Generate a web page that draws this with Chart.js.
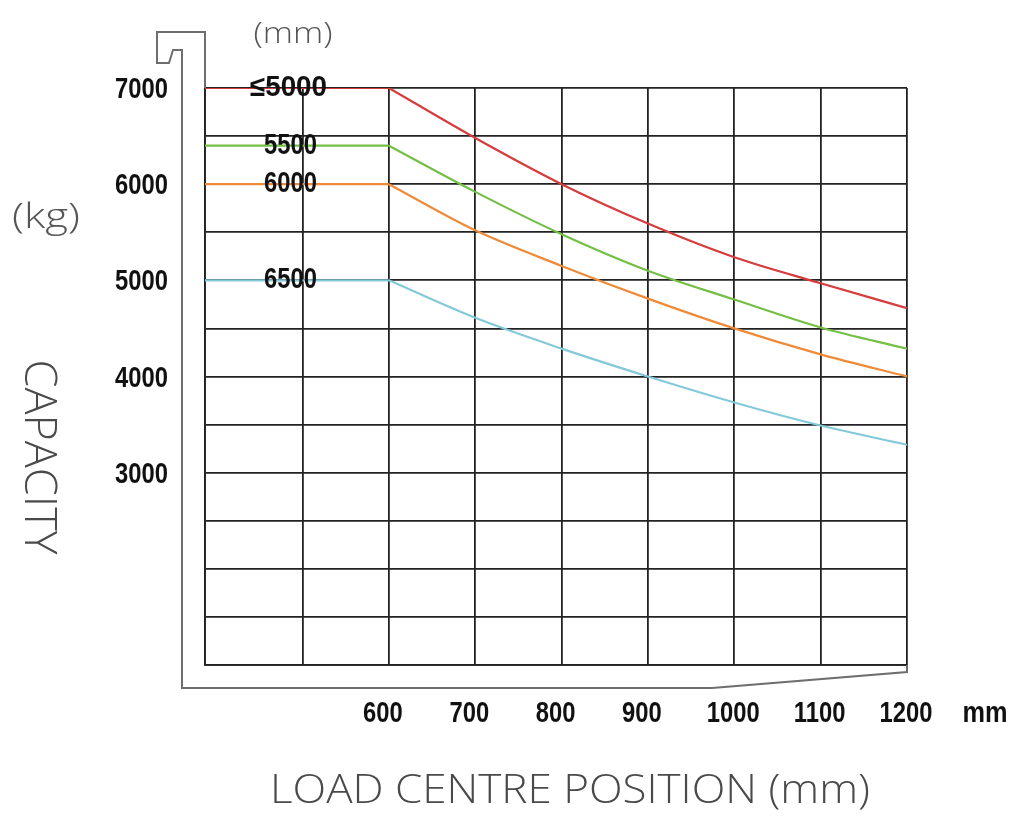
<!DOCTYPE html>
<html>
<head>
<meta charset="utf-8">
<title>Load Capacity Chart</title>
<script src="https://cdn.jsdelivr.net/npm/chart.js@4.4.1/dist/chart.umd.min.js"></script>
<style>
  html, body { margin: 0; padding: 0; background: #fff; }
  #wrap { width: 1014px; height: 819px; }
</style>
</head>
<body>
<div id="wrap"><canvas id="capacityChart" width="1014" height="819"></canvas></div>
<script>
// Load centre positions (mm) - first value is the left edge of the grid
const loadCentres = [387, 600, 700, 800, 900, 1000, 1100, 1200]

// Capacity (kg) for each lift height
const cap5000 = [7000, 7000, 6480, 6000, 5590, 5240, 4970, 4710]
const cap5500 = [6400, 6400, 5920, 5480, 5100, 4800, 4510, 4290]
const cap6000 = [6000, 6000, 5520, 5150, 4810, 4500, 4230, 4000]
const cap6500 = [5000, 5000, 4610, 4290, 4000, 3730, 3490, 3290]

const liftLabels = ["≤5000", "5500", "6000", "6500"]
const liftColors = ["#d63c3c", "#74bf44", "#ee8b38", "#84c9d8"]

// Tick values
const xGridValues = [387, 500, 600, 700, 800, 900, 1000, 1100, 1200]
const xLabelValues = [600, 700, 800, 900, 1000, 1100, 1200]
const yLabelValues = [3000, 4000, 5000, 6000, 7000]

const series = [cap5000, cap5500, cap6000, cap6500]
const boldFont = 'bold 29px "Liberation Sans", Arial, sans-serif'
const lightFont = '"Open Sans", "Noto Sans", sans-serif'
const SQUEEZE = 0.82 // fake "narrow" look

// Build datasets: flat part straight, falling part smooth
function buildDatasets() {
  const sets = []
  series.forEach((caps, i) => {
    const pts = loadCentres.map((x, k) => ({ x: x, y: caps[k] }))
    sets.push({
      label: liftLabels[i] + " flat",
      data: pts.slice(0, 2),
      borderColor: liftColors[i],
      borderWidth: 2.2,
      pointRadius: 0,
      tension: 0,
    })
    sets.push({
      label: liftLabels[i],
      data: pts.slice(1),
      borderColor: liftColors[i],
      borderWidth: 2.2,
      pointRadius: 0,
      cubicInterpolationMode: "monotone",
    })
  })
  return sets
}

// Draw text, optionally fitted to a width or squeezed by a factor
function drawText(ctx, text, x, y, font, color, opts = {}) {
  ctx.save()
  ctx.translate(x, y)
  if (opts.angle) ctx.rotate(opts.angle)
  ctx.font = font
  ctx.fillStyle = color
  ctx.textAlign = opts.align || "center"
  ctx.textBaseline = "alphabetic"
  let sx = opts.squeeze || 1
  if (opts.width) sx = opts.width / ctx.measureText(text).width
  ctx.scale(sx, 1)
  ctx.fillText(text, 0, 0)
  ctx.restore()
}

// Tick labels, placed from the chart's own scales
function drawTickLabels(chart) {
  const ctx = chart.ctx
  const xs = chart.scales.x
  const ys = chart.scales.y
  ys.ticks.forEach((t) => {
    if (!yLabelValues.includes(t.value)) return
    const py = ys.getPixelForValue(t.value)
    drawText(ctx, String(t.value), 168, py + 10, boldFont, "#111", { align: "right", squeeze: SQUEEZE })
  })
  xs.ticks.forEach((t) => {
    if (!xLabelValues.includes(t.value)) return
    const label = String(t.value)
    const px = xs.getPixelForValue(t.value) - (label.length < 4 ? 6 : 1)
    drawText(ctx, label, px, 722, boldFont, "#111", { squeeze: SQUEEZE })
  })
  drawText(ctx, "mm", 985, 722, boldFont, "#111", { width: 45 })
}

// Decorations: fork outline, curve labels, axis titles
const decorPlugin = {
  id: "decor",
  afterDatasetsDraw(chart) {
    const ctx = chart.ctx
    const xs = chart.scales.x
    const ys = chart.scales.y
    series.forEach((caps, i) => {
      const cx = xs.getPixelForValue(486)
      const cy = ys.getPixelForValue(caps[0])
      const opts = i === 0 ? { width: 77 } : { squeeze: SQUEEZE }
      drawText(ctx, liftLabels[i], i === 0 ? cx - 2 : cx, cy + 8, boldFont, "#111", opts)
    })
  },
  afterDraw(chart) {
    const ctx = chart.ctx
    const a = chart.chartArea

    // fork outline
    ctx.save()
    ctx.strokeStyle = "#6e6e6e"
    ctx.lineWidth = 2
    ctx.beginPath()
    ctx.moveTo(a.left, a.top)
    ctx.lineTo(a.left, 32)
    ctx.lineTo(157, 32)
    ctx.lineTo(157, 63)
    ctx.lineTo(169, 63)
    ctx.lineTo(173, 50)
    ctx.lineTo(182, 50)
    ctx.lineTo(182, 688)
    ctx.lineTo(712, 688)
    ctx.lineTo(a.right, 672)
    ctx.lineTo(a.right, a.bottom)
    ctx.stroke()
    ctx.restore()

    drawTickLabels(chart)

    // titles
    drawText(ctx, "(mm)", 293, 43, "300 30px " + lightFont, "#555", { width: 79 })
    drawText(ctx, "(kg)", 46, 228, "300 34px " + lightFont, "#555", { width: 68 })
    drawText(ctx, "CAPACITY", 25, 457, "300 44px " + lightFont, "#4a4a4a", { width: 195, angle: Math.PI / 2 })
    drawText(ctx, "LOAD CENTRE POSITION (mm)", 570, 803, "300 40px " + lightFont, "#4a4a4a", { width: 600 })
  },
}

function initChart() {
  const ctx = document.getElementById("capacityChart")
  new Chart(ctx, {
    type: "line",
    data: { datasets: buildDatasets() },
    options: {
      responsive: false,
      animation: false,
      layout: { padding: { left: 0, right: 107, top: 88, bottom: 0 } },
      plugins: { legend: { display: false }, tooltip: { enabled: false } },
      scales: {
        x: {
          type: "linear",
          min: 387,
          max: 1200,
          afterBuildTicks: (s) => {
            s.ticks = xGridValues.map((v) => ({ value: v }))
          },
          afterFit: (s) => {
            s.height = 154
          },
          grid: { color: "#222", lineWidth: 1.8, drawTicks: false },
          border: { color: "#222", width: 1.8 },
          ticks: { display: false },
        },
        y: {
          min: 1000,
          max: 7000,
          afterFit: (s) => {
            s.width = 205
          },
          grid: { color: "#222", lineWidth: 1.8, drawTicks: false },
          border: { color: "#222", width: 1.8 },
          ticks: { display: false, stepSize: 500 },
        },
      },
    },
    plugins: [decorPlugin],
  })
}

document.addEventListener("DOMContentLoaded", () => {
  initChart()
})
</script>
</body>
</html>
